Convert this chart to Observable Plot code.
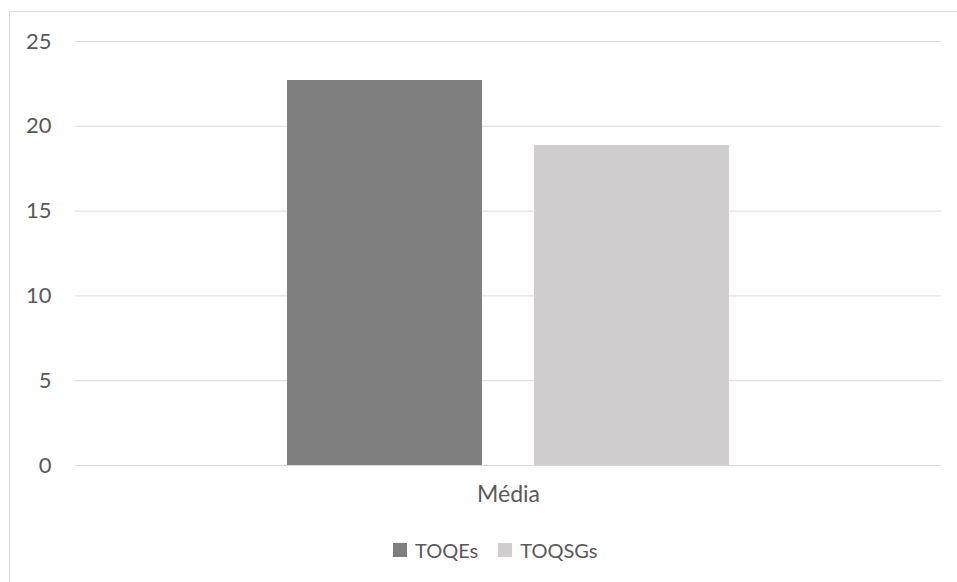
<!DOCTYPE html>
<html>
<head>
<meta charset="utf-8">
<script src="https://cdn.jsdelivr.net/npm/d3@7"></script>
<script src="https://cdn.jsdelivr.net/npm/@observablehq/plot@0.6"></script>
<style>
  html, body { margin: 0; padding: 0; background: #fff; }
  #wrap { position: relative; width: 957px; height: 582px; overflow: hidden; font-family: Lato, "Open Sans", sans-serif; }
  #frame { position: absolute; left: 9px; top: 11px; width: 960px; height: 600px; border-left: 1px solid #d9d9d9; border-top: 1px solid #d9d9d9; box-sizing: border-box; }
  #chart { position: absolute; left: 0; top: 0; }
  #legend { position: absolute; left: 393px; top: 538px; display: flex; gap: 20px; color: #595959; font-size: 20px; line-height: 24px; }
  .item { display: flex; align-items: center; gap: 8px; }
  .sw { width: 14px; height: 14px; display: inline-block; }
</style>
</head>
<body>
<div id="wrap">
  <div id="frame"></div>
  <div id="chart"></div>
  <div id="legend"></div>
</div>
<script>
const categories = ["Média"];
const series = ["TOQEs", "TOQSGs"];
const values = [22.7, 18.87];
const colors = ["#7f7f7f", "#d0cece"];
const yTicks = [0, 5, 10, 15, 20, 25];

const data = series.map((s, i) => ({category: categories[0], series: s, value: values[i]}));

const chart = Plot.plot({
  width: 957,
  height: 520,
  marginLeft: 75,
  marginRight: 16,
  marginTop: 41,
  marginBottom: 55,
  style: {fontFamily: "Lato, 'Open Sans', sans-serif", fontSize: "21px", color: "#595959", background: "transparent"},
  fx: {domain: categories, padding: 0, label: null, axis: null},
  x: {domain: series, paddingInner: 0.21, paddingOuter: 0.854, axis: null},
  y: {domain: [0, 25], ticks: yTicks, label: null, axis: null},
  color: {domain: series, range: colors},
  marks: [
    Plot.ruleY(yTicks, {stroke: "#d9d9d9", strokeWidth: 1}),
    Plot.barY(data, {fx: "category", x: "series", y: "value", fill: "series"}),
    Plot.axisY({ticks: yTicks, tickSize: 0, tickPadding: 24, label: null, fontSize: 22}),
    Plot.axisFx({anchor: "bottom", tickSize: 0, tickPadding: 20, label: null, fontSize: 23})
  ]
});
document.getElementById("chart").appendChild(chart);

const legend = document.getElementById("legend");
series.forEach((s, i) => {
  const item = document.createElement("span");
  item.className = "item";
  const sw = document.createElement("span");
  sw.className = "sw";
  sw.style.background = colors[i];
  const t = document.createElement("span");
  t.textContent = s;
  item.appendChild(sw);
  item.appendChild(t);
  legend.appendChild(item);
});
</script>
</body>
</html>
